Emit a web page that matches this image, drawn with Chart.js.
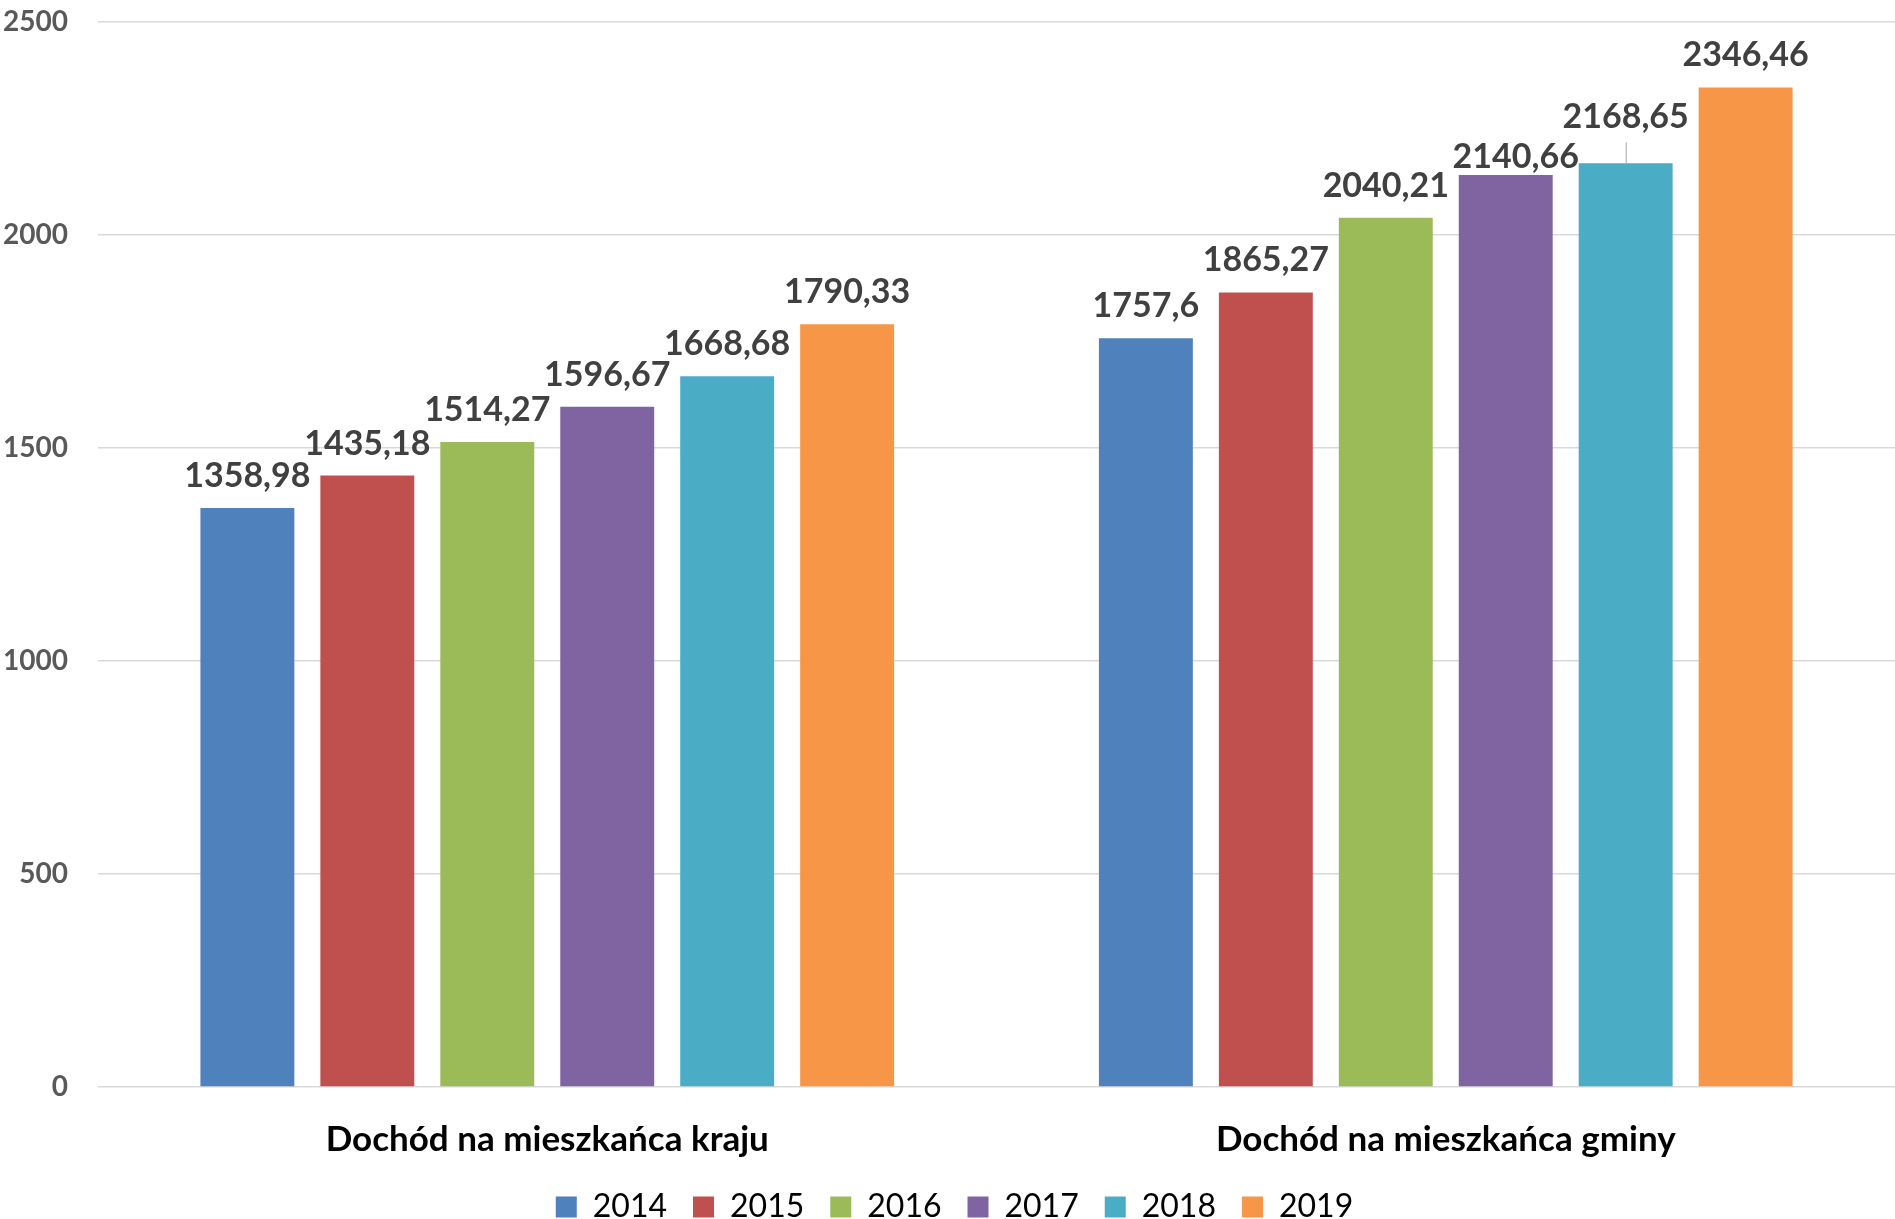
<!DOCTYPE html>
<html>
<head>
<meta charset="utf-8">
<script src="https://cdn.jsdelivr.net/npm/chart.js@4.4.1/dist/chart.umd.min.js"></script>
<style>
  html, body { margin: 0; padding: 0; background: #fff; }
  #wrap { width: 1895px; height: 1219px; }
</style>
</head>
<body>
<div id="wrap"><canvas id="chart"></canvas></div>
<script>
const categories = ["Dochód na mieszkańca kraju", "Dochód na mieszkańca gminy"];
const years = ["2014", "2015", "2016", "2017", "2018", "2019"];
const v2014 = [1358.98, 1757.6];
const v2015 = [1435.18, 1865.27];
const v2016 = [1514.27, 2040.21];
const v2017 = [1596.67, 2140.66];
const v2018 = [1668.68, 2168.65];
const v2019 = [1790.33, 2346.46];
const yTicks = [0, 500, 1000, 1500, 2000, 2500];

const colors = ["#4F81BD", "#C0504D", "#9BBB59", "#8064A2", "#4BACC6", "#F79646"];
const series = [v2014, v2015, v2016, v2017, v2018, v2019];

const fmt = v => String(v).replace(".", ",");

// labels above bars, a couple of them nudged like in the original
const valueLabels = {
  id: "valueLabels",
  afterDatasetsDraw(chart, args, opts) {
    const ctx = chart.ctx;
    ctx.save();
    ctx.font = "bold 34px Lato";
    ctx.fillStyle = "#404040";
    ctx.textAlign = "center";
    ctx.textBaseline = "alphabetic";
    chart.data.datasets.forEach((ds, di) => {
      const meta = chart.getDatasetMeta(di);
      meta.data.forEach((bar, i) => {
        const n = opts.nudge[di + ":" + i] || {dx: 0, dy: 0, leader: false};
        const x = bar.x + n.dx;
        const y = bar.y - 21 + n.dy;
        if (n.leader) {
          ctx.strokeStyle = "#a6a6a6";
          ctx.lineWidth = 1;
          ctx.beginPath();
          ctx.moveTo(bar.x + 0.5, y + 14);
          ctx.lineTo(bar.x + 0.5, bar.y);
          ctx.stroke();
        }
        ctx.fillText(fmt(ds.data[i]), x, y);
      });
    });
    ctx.restore();
  }
};

// tweak the layout: legend a bit lower, plot area reaching closer to the top
const layoutFix = {
  id: "layoutFix",
  afterLayout(chart) {
    chart.legend.top += 14;
    chart.legend.bottom += 14;
    chart.legend.left += 7;
    chart.legend.right += 7;
    chart.scales.x.bottom += 14;
    chart.scales.x.height += 14;

    const top = 22;
    const ca = chart.chartArea;
    ca.top = top;
    ca.height = ca.bottom - top;
    const y = chart.scales.y;
    y.top = top;
    y.height = y.bottom - top;
    y.configure();
  }
};

new Chart(document.getElementById("chart"), {
  type: "bar",
  data: {
    labels: categories,
    datasets: years.map((y, i) => ({
      label: y,
      data: series[i],
      backgroundColor: colors[i],
      borderWidth: 0,
      categoryPercentage: 0.801,
      barPercentage: 0.783,
    })),
  },
  options: {
    responsive: true,
    maintainAspectRatio: false,
    animation: false,
    plugins: {
      tooltip: { enabled: false },
      legend: {
        position: "bottom",
        labels: {
          font: { family: "Lato", size: 32 },
          color: "#000",
          boxWidth: 21,
          boxHeight: 21,
          padding: 26,
        },
      },
      valueLabels: {
        nudge: {
          "3:1": { dx: 10, dy: 14, leader: false },
          "4:1": { dx: 0, dy: -14, leader: true },
        },
      },
    },
    scales: {
      x: {
        grid: { display: false },
        border: { display: false },
        ticks: {
          font: { family: "Lato", size: 35, weight: "bold" },
          color: "#000",
          padding: 24,
        },
        afterFit(scale) { scale.height = 64; },
      },
      y: {
        min: 0,
        max: 2500,
        afterBuildTicks(scale) { scale.ticks = yTicks.map(v => ({ value: v })); },
        grid: { color: "#d9d9d9", lineWidth: 1.5, drawTicks: false },
        border: { display: false },
        ticks: {
          font: { family: "Lato", size: 28, weight: "bold" },
          color: "#595959",
          padding: 30,
          callback: v => String(v),
        },
        afterFit(scale) { scale.width = 98; },
      },
    },
  },
  plugins: [valueLabels, layoutFix],
});
</script>
</body>
</html>
